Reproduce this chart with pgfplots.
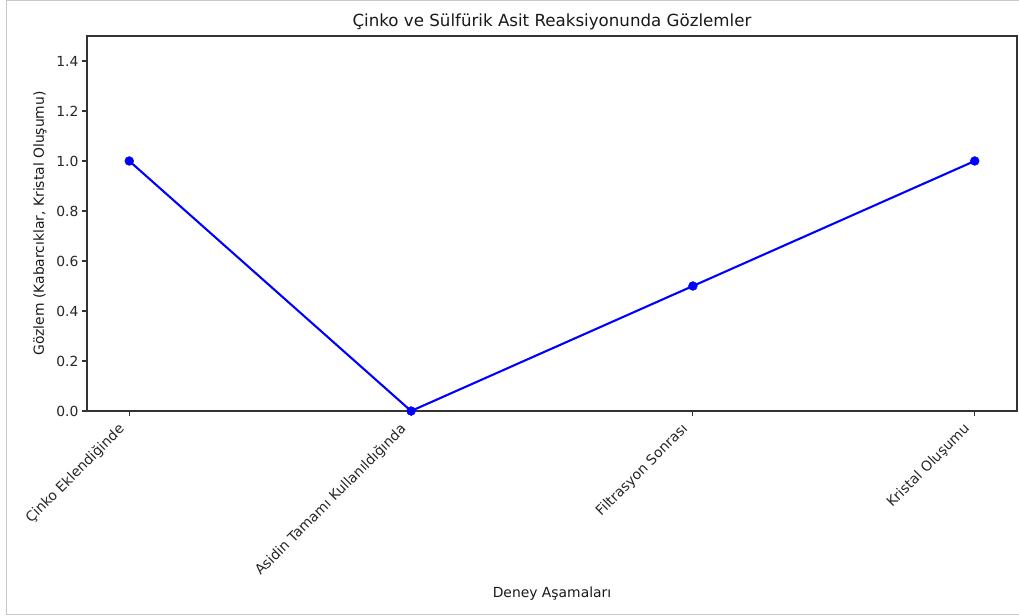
\documentclass[border=0pt]{standalone}
\usepackage{pgfplots}
\pgfplotsset{compat=1.18}
\usepackage{fontspec}
\setmainfont{DejaVu Sans}
\begin{document}
\begin{tikzpicture}
\useasboundingbox (-62.64pt,-147.6pt) rectangle (671.04pt,295.92pt);
\draw[black!22, line width=0.72pt] (-57.6pt,-146.88pt) rectangle (700pt,295.2pt);
\begin{axis}[
  at={(0pt,0pt)}, anchor=south west,
  scale only axis, width=669.6pt, height=270pt,
  xmin=-0.15, xmax=3.15, ymin=0, ymax=1.5,
  xtick={0,1,2,3},
  xticklabels={Çinko Eklendiğinde, Asidin Tamamı Kullanıldığında, Filtrasyon Sonrası, Kristal Oluşumu},
  ytick={0,0.2,0.4,0.6,0.8,1.0,1.2,1.4},
  /pgf/number format/fixed,
  /pgf/number format/fixed zerofill,
  /pgf/number format/precision=1,
  /pgf/number format/assume math mode=true,
  axis line style={black!80, line width=0.8pt},
  tick style={black!80, line width=0.8pt},
  major tick length=3.5pt,
  tick align=outside,
  xtick pos=bottom, ytick pos=left,
  ticklabel style={font=\fontsize{10}{12}\selectfont, text=black!85},
  xticklabel style={xshift=-8.7pt, yshift=-2.9pt, rotate=45, anchor=north east, inner sep=1pt},
  yticklabel style={inner sep=1pt, xshift=-1.5pt},
  title={Çinko ve Sülfürik Asit Reaksiyonunda Gözlemler},
  title style={at={(axis description cs:0.5,1.0427)}, anchor=center, yshift=-7.2pt, font=\fontsize{12}{14}\selectfont, text=black!90},
  xlabel={Deney Aşamaları},
  ylabel={Gözlem (Kabarcıklar, Kristal Oluşumu)},
  xlabel style={at={(axis description cs:0.5,-0.488)}, anchor=center, font=\fontsize{10}{12}\selectfont, text=black!90},
  ylabel style={at={(axis description cs:-0.0505,0.5)}, anchor=center, font=\fontsize{10}{12}\selectfont, text=black!90},
]
\addplot[color={rgb,255:red,0;green,0;blue,255}, line width=1.5pt, mark=*, mark size=3.2pt, mark options={solid, line width=0.3pt}]
  coordinates {(0,1.0) (1,0.0) (2,0.5) (3,1.0)};
\end{axis}
\end{tikzpicture}
\end{document}
